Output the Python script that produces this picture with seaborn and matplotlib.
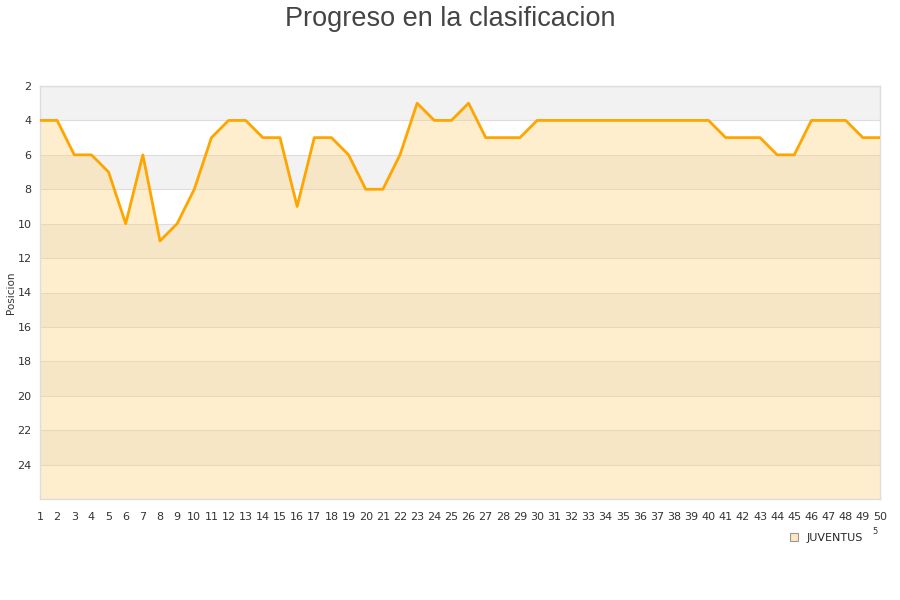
import numpy as np
import pandas as pd
import matplotlib
matplotlib.use("Agg")
import matplotlib.pyplot as plt
import seaborn as sns
from matplotlib.lines import Line2D

# jornada / posicion
jornadas = list(range(1, 51))
posiciones = [4, 4, 6, 6, 7, 10, 6, 11, 10, 8,
              5, 4, 4, 5, 5, 9, 5, 5, 6, 8,
              8, 6, 3, 4, 4, 3, 5, 5, 5, 4,
              4, 4, 4, 4, 4, 4, 4, 4, 4, 4,
              5, 5, 5, 6, 6, 4, 4, 4, 5, 5]
y_ticks = list(range(2, 25, 2))
equipo = "JUVENTUS"

df = pd.DataFrame({"Jornada": jornadas, "Posicion": posiciones})

sns.set_style("white")
plt.rcParams["font.family"] = ["DejaVu Sans"]

fig = plt.figure(figsize=(9, 6), dpi=100)
ax = fig.add_axes([40 / 900, 1 - 499 / 600, 840 / 900, 413 / 600])

y_top, y_bottom = 2, 26
# bandas alternas
for i, lo in enumerate(range(2, 26, 2)):
    color = "#f2f2f2" if i % 2 == 0 else "white"
    ax.axhspan(lo, lo + 2, color=color, zorder=0, lw=0)

for t in y_ticks:
    ax.axhline(t, color="#dddddd", lw=0.8, zorder=0.5)

ax.fill_between(df["Jornada"], df["Posicion"], y_bottom, color="#ffd380", alpha=0.38,
                lw=0, zorder=1)
sns.lineplot(x="Jornada", y="Posicion", data=df, ax=ax, color="#ffa500", linewidth=2,
             zorder=3)

ax.set_xlim(1, 50)
ax.set_ylim(y_bottom, y_top)
ax.set_yticks(y_ticks)
ax.set_xticks(jornadas)
ax.tick_params(axis="y", labelsize=8, colors="#333333", length=0, pad=6)
ax.tick_params(axis="x", labelsize=8, colors="#333333", length=0, pad=9)
ax.set_xlabel("")
ax.set_ylabel("")
for s in ax.spines.values():
    s.set_color("#dddddd")
    s.set_linewidth(1)

fig.text(11 / 900, 1 - 293 / 600, "Posicion", rotation=90, fontsize=7.5, color="#333333",
         ha="center", va="center")
fig.text(875 / 900, 1 - 531 / 600, "5", fontsize=6, color="#333333", ha="center", va="center")

fig.suptitle("Progreso en la clasificacion", fontsize=19.5, color="#444444",
             family=["Liberation Sans", "DejaVu Sans"], y=0.99)

handle = Line2D([], [], marker="s", linestyle="", markersize=6,
                markerfacecolor="#ffe7bd", markeredgecolor="#999999", markeredgewidth=0.8)
fig.legend([handle], [equipo], loc="center", bbox_to_anchor=(826 / 900, 1 - 538 / 600),
           frameon=False, fontsize=8, handletextpad=0.6, handlelength=1)

fig.savefig("out.png", dpi=100)
